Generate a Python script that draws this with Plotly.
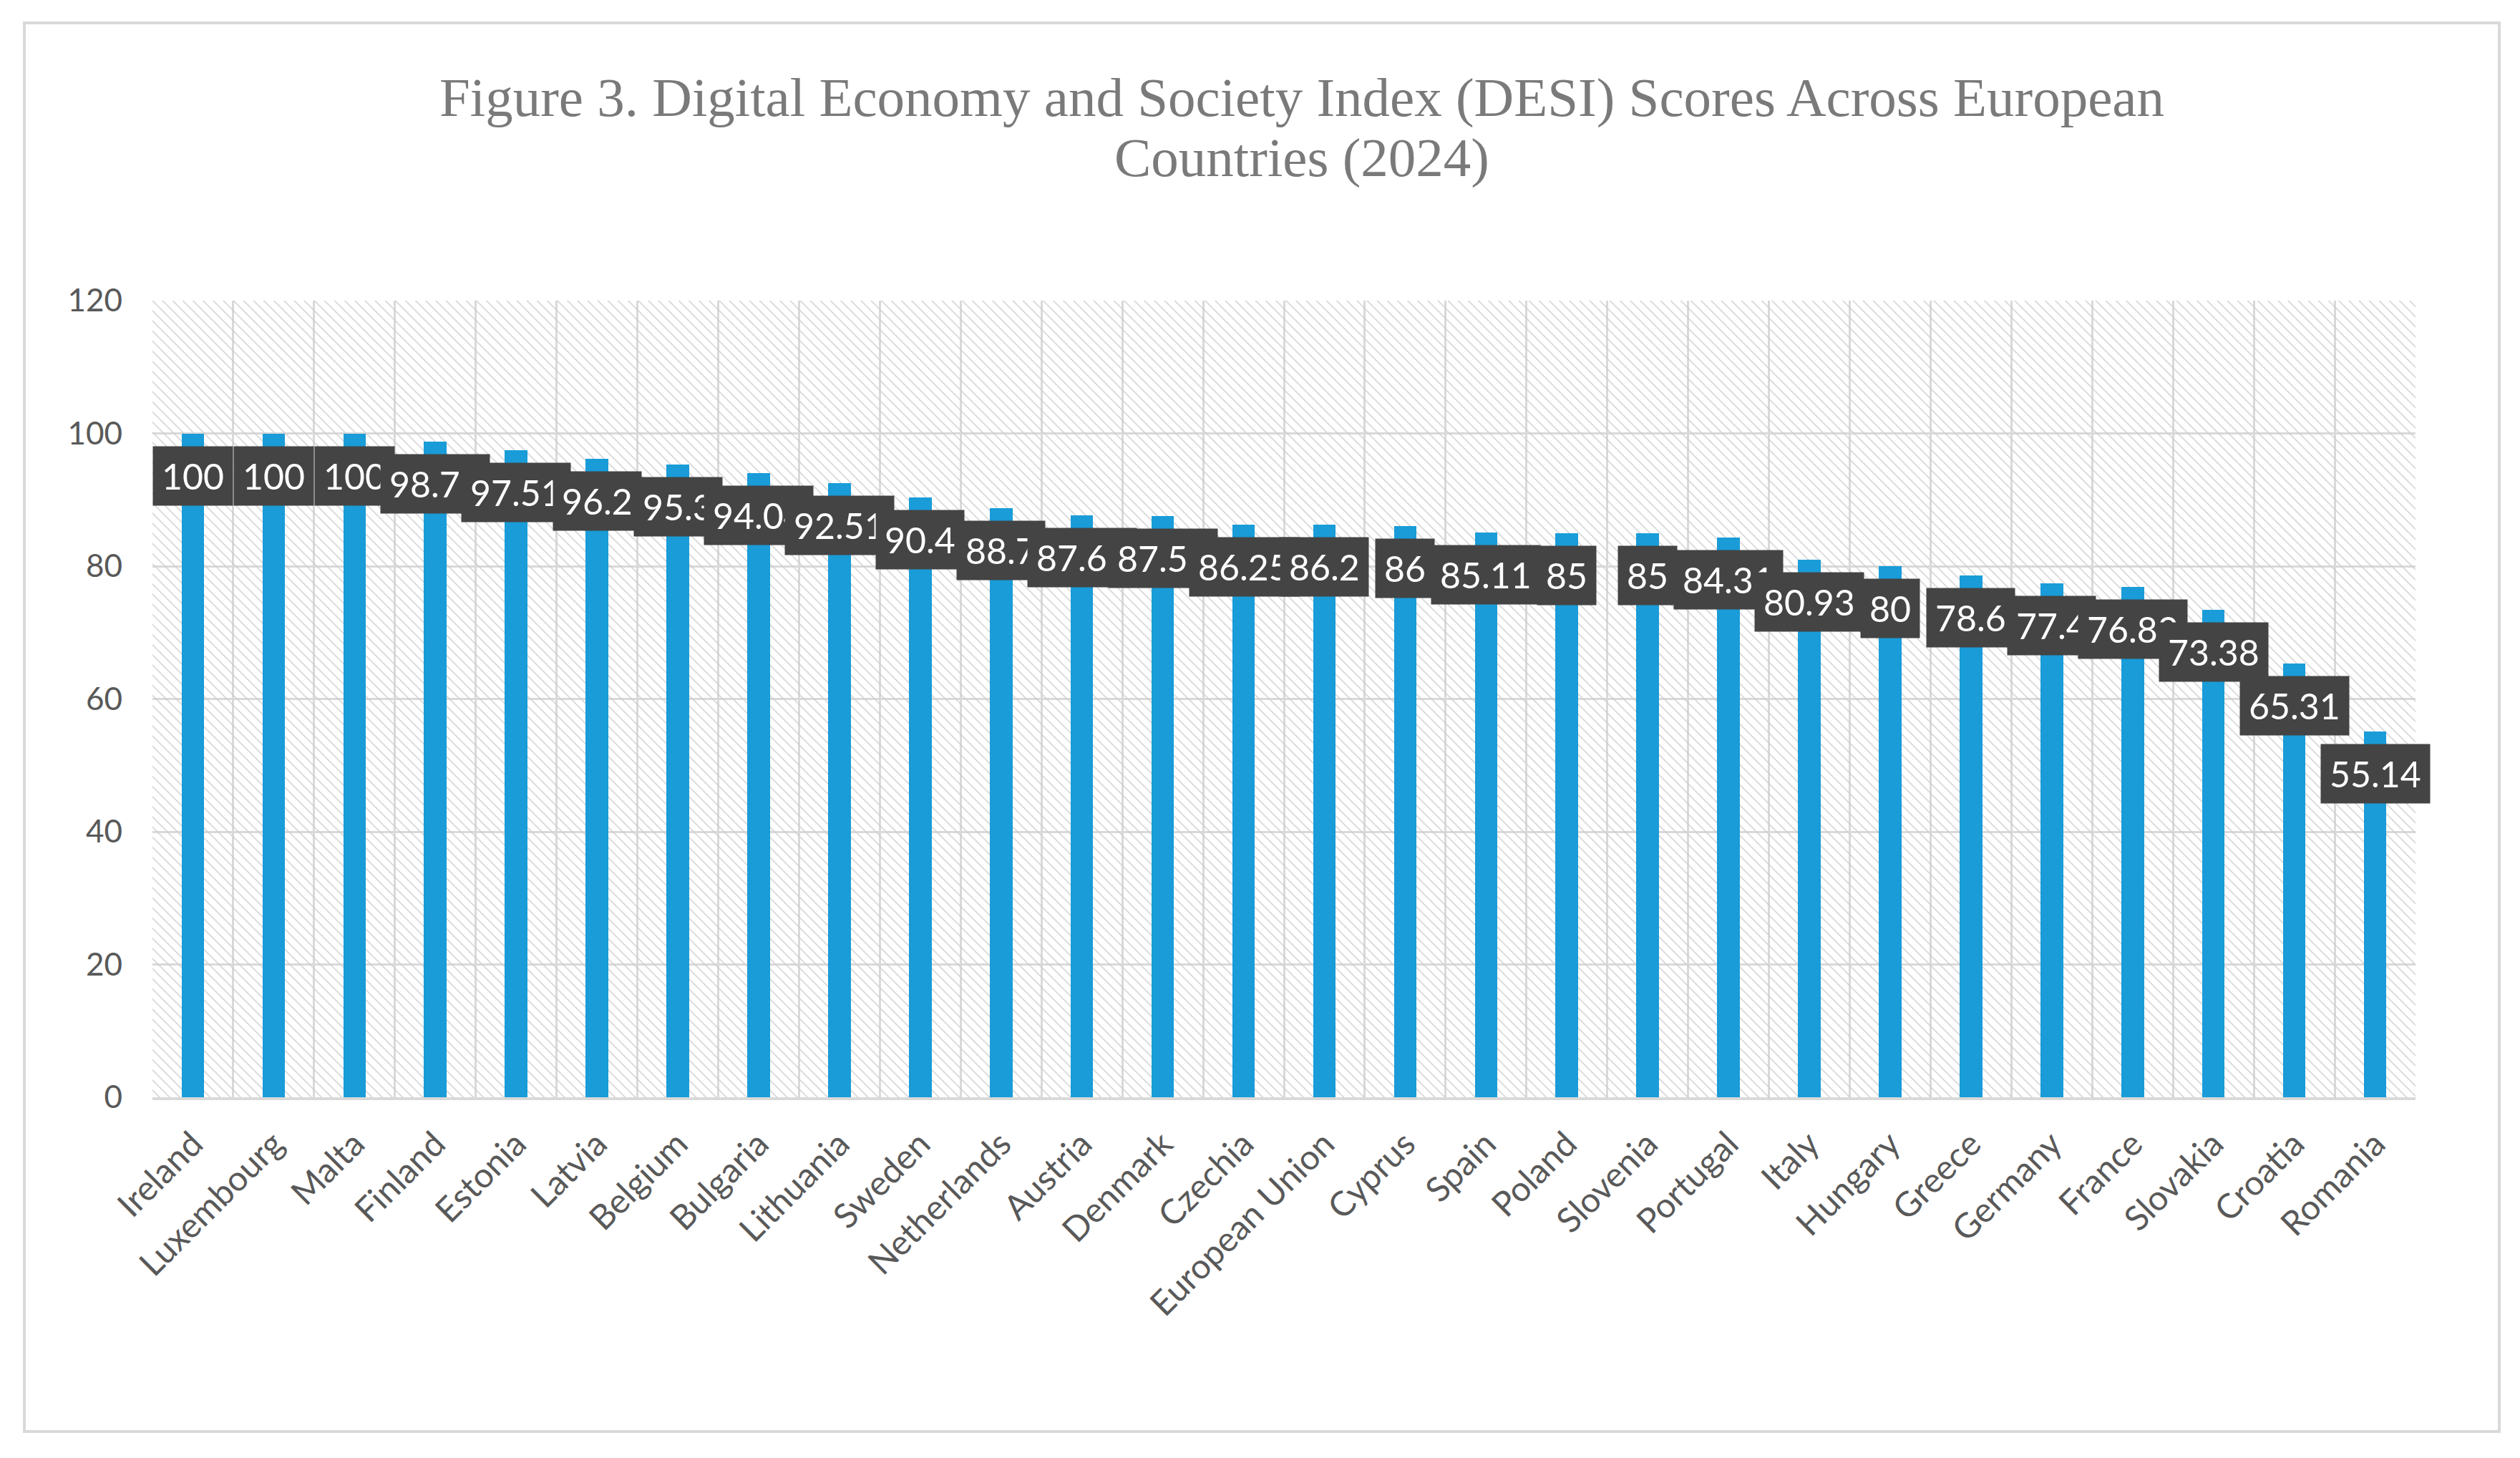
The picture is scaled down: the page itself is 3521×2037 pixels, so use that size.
import plotly.graph_objects as go

countries = ["Ireland", "Luxembourg", "Malta", "Finland", "Estonia", "Latvia", "Belgium",
             "Bulgaria", "Lithuania", "Sweden", "Netherlands", "Austria", "Denmark", "Czechia",
             "European Union", "Cyprus", "Spain", "Poland", "Slovenia", "Portugal", "Italy",
             "Hungary", "Greece", "Germany", "France", "Slovakia", "Croatia", "Romania"]
scores = [100, 100, 100, 98.75, 97.51, 96.2, 95.3, 94.04, 92.51, 90.4, 88.7, 87.69, 87.52,
          86.25, 86.2, 86, 85.11, 85, 85, 84.31, 80.93, 80, 78.6, 77.4, 76.82, 73.38, 65.31, 55.14]
y_ticks = [0, 20, 40, 60, 80, 100, 120]

title_line1 = "Figure 3. Digital Economy and Society Index (DESI) Scores Across European"
title_line2 = "Countries (2024)"

GRID = "#d9d9d9"
TXT = "#595959"

fig = go.Figure()

# hatched plot-area background (one full-width cell per category)
fig.add_trace(go.Bar(
    x=countries, y=[max(y_ticks)] * len(countries), width=1,
    marker=dict(color="rgba(0,0,0,0)", line=dict(width=0),
                pattern=dict(shape="\\", fgcolor="#cdcdcd", size=10, solidity=0.14,
                             fillmode="replace")),
    hoverinfo="skip", showlegend=False))

fig.add_trace(go.Bar(
    x=countries, y=scores, width=0.28,
    marker=dict(color="#199cd8", line=dict(width=0)),
    showlegend=False))

for c, v in zip(countries, scores):
    fig.add_annotation(x=c, y=v, xref="x", yref="y", text=f"{v:g}", showarrow=False,
                       yshift=-59, bgcolor="#444444", borderpad=12, height=58,
                       font=dict(family="Lato", size=50, color="white"))

fig.add_annotation(xref="paper", yref="paper", x=0.508, y=1.215, text=title_line1,
                   showarrow=False, yanchor="bottom",
                   font=dict(family="Liberation Serif", size=77, color="#7a7a7a"))
fig.add_annotation(xref="paper", yref="paper", x=0.508, y=1.139, text=title_line2,
                   showarrow=False, yanchor="bottom",
                   font=dict(family="Liberation Serif", size=77, color="#7a7a7a"))

# outer chart border
fig.add_shape(type="rect", xref="paper", yref="paper",
              x0=-0.0566, x1=1.037, y0=-0.4196, y1=1.3486,
              line=dict(color=GRID, width=4), fillcolor="rgba(0,0,0,0)", layer="below")

fig.update_layout(
    width=3521, height=2037,
    margin=dict(l=213, r=146, t=420, b=504),
    paper_bgcolor="white", plot_bgcolor="white",
    barmode="overlay", bargap=0,
    xaxis=dict(type="category", categoryorder="array", categoryarray=countries,
               range=[-0.5, len(countries) - 0.5],
               tickson="boundaries", showgrid=True, gridcolor=GRID, gridwidth=3,
               showline=True, linecolor=GRID, linewidth=4, mirror=False,
               ticks="", tickangle=-45, ticklabelstandoff=14,
               tickfont=dict(family="Lato", size=48, color=TXT), automargin=False),
    yaxis=dict(range=[0, max(y_ticks)], tickvals=y_ticks, showgrid=True, gridcolor=GRID,
               gridwidth=3, zeroline=False, showline=False, ticks="",
               ticklabelstandoff=41,
               tickfont=dict(family="Lato", size=44, color=TXT), automargin=False),
)

fig.write_html("out.html")
